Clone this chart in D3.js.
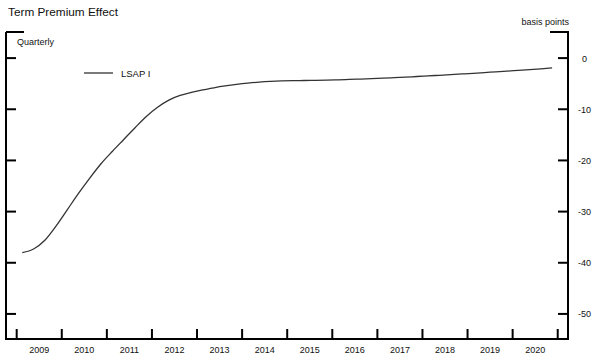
<!DOCTYPE html>
<html><head><meta charset="utf-8">
<script src="https://cdn.jsdelivr.net/npm/d3@7"></script>
<style>body{margin:0;background:#fff}svg{display:block}text{font-family:"Liberation Sans",Arial,sans-serif;fill:#111}</style>
</head><body>
<script>
const years = [2009,2010,2011,2012,2013,2014,2015,2016,2017,2018,2019,2020];
const yTicks = [0,-10,-20,-30,-40,-50];
const seriesName = "LSAP I";
// quarterly, 2009Q1 .. 2020Q4
const lsap = [-38.0,-37.3,-35.6,-32.8,-29.6,-26.4,-23.4,-20.6,-18.2,-15.9,-13.6,-11.4,
  -9.6,-8.2,-7.3,-6.7,-6.2,-5.8,-5.45,-5.15,-4.9,-4.7,-4.55,-4.45,
  -4.4,-4.38,-4.35,-4.3,-4.24,-4.17,-4.1,-4.02,-3.93,-3.83,-3.72,-3.6,
  -3.48,-3.36,-3.23,-3.1,-2.97,-2.83,-2.69,-2.55,-2.41,-2.26,-2.1,-1.9];
const data = lsap.map((v,i)=>({t:2009 + (i+0.5)/4, v}));

const W=600,H=359;
const svg=d3.select("body").append("svg").attr("width",W).attr("height",H);
const L=6,R=568,T=32,B=339;
const x=d3.scaleLinear().domain([2008.763,2021.228]).range([L,R]);
const y=d3.scaleLinear().domain([5.1,-54.9]).range([T,B]);

svg.append("text").attr("x",8).attr("y",16).attr("font-size",11.8).text("Term Premium Effect");
svg.append("text").attr("x",17).attr("y",45).attr("font-size",9).text("Quarterly");
svg.append("text").attr("x",569).attr("y",25).attr("font-size",9).attr("text-anchor","end").text("basis points");

const g=svg.append("g").attr("stroke","#000").attr("stroke-width",2).attr("fill","none");
g.append("path").attr("d",`M${L},${T}H${L+18}M${L},${T}V${B}H${R}V${T}H${R-18}`);
yTicks.forEach(t=>{
  g.append("line").attr("x1",L).attr("x2",L+10).attr("y1",y(t)).attr("y2",y(t));
  g.append("line").attr("x1",R-10).attr("x2",R).attr("y1",y(t)).attr("y2",y(t));
});
const bounds=years.concat([2021]);
bounds.forEach(b=>{
  g.append("line").attr("x1",x(b)).attr("x2",x(b)).attr("y1",B).attr("y2",B-10);
});
svg.selectAll(".xl").data(years).enter().append("text")
  .attr("x",d=>x(d+0.5)).attr("y",353).attr("font-size",9).attr("text-anchor","middle").text(d=>d);
svg.selectAll(".yl").data(yTicks).enter().append("text")
  .attr("x",d=>d===0?582:578).attr("y",d=>y(d)+3.5).attr("font-size",9).text(d=>d);

const line=d3.line().x(d=>x(d.t)).y(d=>y(d.v)).curve(d3.curveMonotoneX);
svg.append("path").datum(data).attr("d",line).attr("fill","none").attr("stroke","#333").attr("stroke-width",1.3);

svg.append("line").attr("x1",84).attr("x2",113).attr("y1",73).attr("y2",73).attr("stroke","#333").attr("stroke-width",1.3);
svg.append("text").attr("x",121).attr("y",77).attr("font-size",9.5).text(seriesName);
</script>
</body></html>
